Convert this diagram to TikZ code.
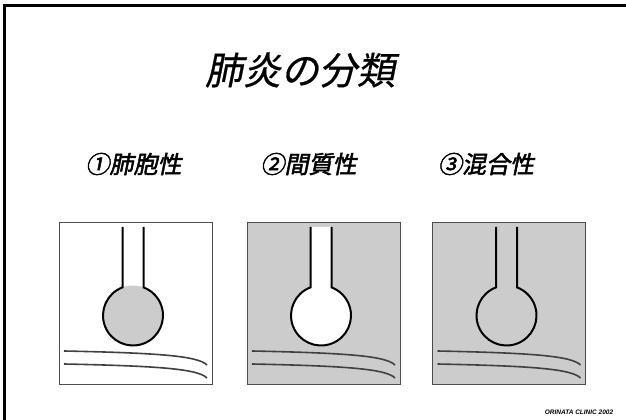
\documentclass[tikz,border=0pt]{standalone}
\usepackage{fontspec}
\usepackage{xcolor}
\setsansfont{Liberation Sans}
\newfontfamily\jptitle[FakeSlant=0.2,FakeBold=0.6]{Noto Sans CJK JP}
\newfontfamily\jplabel[FakeSlant=0.2,FakeBold=2]{Noto Sans CJK JP}
\definecolor{stipple}{gray}{0.8}
\definecolor{lining}{gray}{0.25}

\begin{document}
\begin{tikzpicture}[x=1pt,y=1pt,
  panel/.style={rectangle,draw=black!70,line width=0.8pt,minimum width=153pt,minimum height=162pt,inner sep=0pt},
  wall/.style={line width=2pt},
  pleura/.style={draw=lining,line width=1.6pt},
  heading/.style={font=\jplabel\fontsize{24}{24}\selectfont}]
\useasboundingbox (0,0) rectangle (626,420);
\draw[line width=2.5pt] (4.5,0) -- (4.5,414.5) -- (626,414.5);

\node (title) at (300,350) {\jptitle\fontsize{38}{38}\selectfont 肺炎の分類};

\node [heading] (lab1) at (133.5,256) {①肺胞性};
\node [heading] (lab2) at (308.5,256) {②間質性};
\node [heading] (lab3) at (486,256) {③混合性};

\node [panel,fill=white] (alv) at (135.5,117) {};
\node [panel,fill=stipple] (int) at (323.5,117) {};
\node [panel,fill=stipple] (mix) at (509,117) {};

% alveolar: only the air space is filled
\begin{scope}[shift={(alv.center)}]
  \fill[stipple] (-2.5,-12.5) circle[radius=30pt];
  \draw[wall] (-13,76) -- (-13,15.6) arc[start angle=110.5,end angle=429.5,radius=30pt] -- (8,76);
  \draw[pleura] (-71.5,-48) .. controls (24.5,-50) and (62.5,-53) .. (71.5,-62);
  \draw[pleura] (-71.5,-61) .. controls (24.5,-63) and (62.5,-66) .. (71.5,-75);
\end{scope}

% interstitial: air space stays clear
\begin{scope}[shift={(int.center)}]
  \fill[white] (-13,76) -- (-13,15.6) arc[start angle=110.5,end angle=429.5,radius=30pt] -- (8,76) -- cycle;
  \draw[wall] (-13,76) -- (-13,15.6) arc[start angle=110.5,end angle=429.5,radius=30pt] -- (8,76);
  \draw[pleura] (-71.5,-48) .. controls (24.5,-50) and (62.5,-53) .. (71.5,-62);
  \draw[pleura] (-71.5,-61) .. controls (24.5,-63) and (62.5,-66) .. (71.5,-75);
\end{scope}

% mixed
\begin{scope}[shift={(mix.center)}]
  \draw[wall] (-13,76) -- (-13,15.6) arc[start angle=110.5,end angle=429.5,radius=30pt] -- (8,76);
  \draw[pleura] (-71.5,-48) .. controls (24.5,-50) and (62.5,-53) .. (71.5,-62);
  \draw[pleura] (-71.5,-61) .. controls (24.5,-63) and (62.5,-66) .. (71.5,-75);
\end{scope}

\node [font=\sffamily\bfseries\itshape\fontsize{6.5}{7}\selectfont] (credit) at (579,8) {ORINATA CLINIC 2002};
\end{tikzpicture}
\end{document}
